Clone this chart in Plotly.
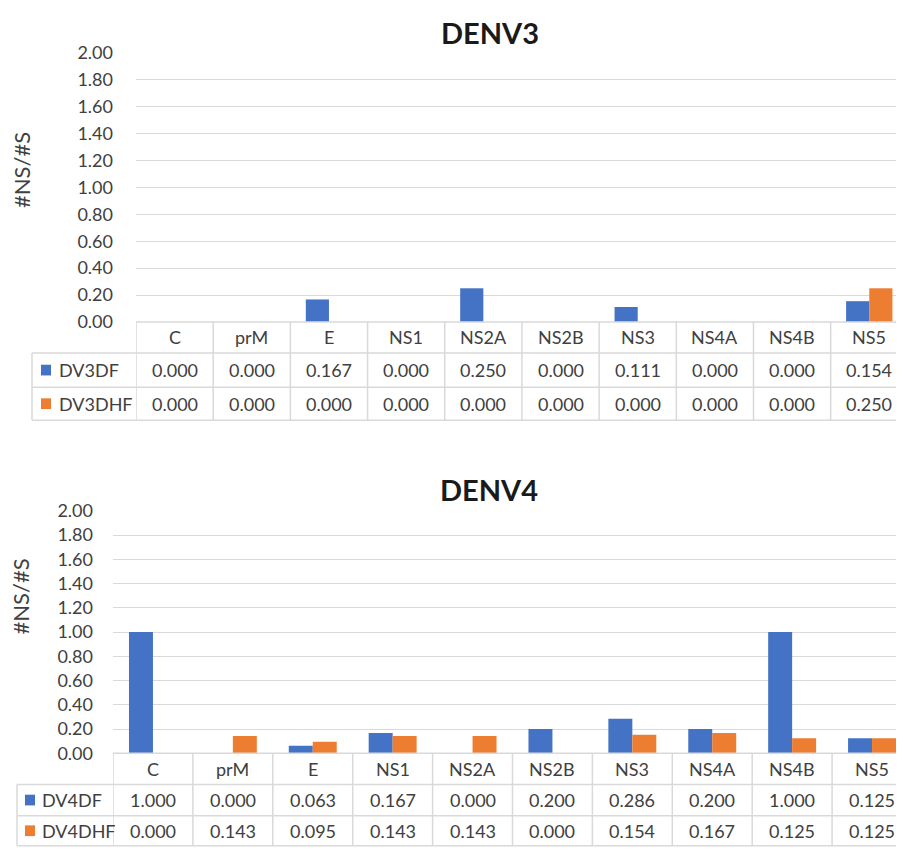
import plotly.graph_objects as go

categories = ["C", "prM", "E", "NS1", "NS2A", "NS2B", "NS3", "NS4A", "NS4B", "NS5"]

dv3_names = ["DV3DF", "DV3DHF"]
dv3df = [0.000, 0.000, 0.167, 0.000, 0.250, 0.000, 0.111, 0.000, 0.000, 0.154]
dv3dhf = [0.000, 0.000, 0.000, 0.000, 0.000, 0.000, 0.000, 0.000, 0.000, 0.250]

dv4_names = ["DV4DF", "DV4DHF"]
dv4df = [1.000, 0.000, 0.063, 0.167, 0.000, 0.200, 0.286, 0.200, 1.000, 0.125]
dv4dhf = [0.000, 0.143, 0.095, 0.143, 0.143, 0.000, 0.154, 0.167, 0.125, 0.125]

y_ticks = [0.0, 0.2, 0.4, 0.6, 0.8, 1.0, 1.2, 1.4, 1.6, 1.8, 2.0]
titles = ["DENV3", "DENV4"]
y_title = "#NS/#S"

# page body has an 8px margin: figure sized so the page fits the window exactly
W, H = 896, 841
OFF = 8
BLUE = "#4472C4"
ORANGE = "#ED7D31"
GRID = "#D9D9D9"
TXT = "#404040"
FONT = "Lato"
FS = 18

def px(x):
    return (x - OFF) / W

def py(y):
    return 1 - (y - OFF) / H

fig = go.Figure()
shapes = []
annotations = []

panels = [
    dict(names=dv3_names, vals=[dv3df, dv3dhf], title=titles[0], xa="x", ya="y",
         plot_l=136, plot_top=42, plot_bot=318, hdr_bot=350, r1_bot=385, r2_bot=419,
         leg_l=32, sq_l=41, txt_l=57, title_x=490, title_y=21, ytitle_x=22, ytitle_y=162),
    dict(names=dv4_names, vals=[dv4df, dv4dhf], title=titles[1], xa="x2", ya="y2",
         plot_l=113, plot_top=512, plot_bot=761, hdr_bot=793, r1_bot=825, r2_bot=856,
         leg_l=17, sq_l=25, txt_l=40, title_x=489, title_y=490, ytitle_x=21, ytitle_y=600),
]

for p in panels:
    colors = [BLUE, ORANGE]
    for name, vals, col in zip(p["names"], p["vals"], colors):
        fig.add_trace(go.Bar(x=categories, y=vals, name=name, marker_color=col,
                             marker_line_width=0, xaxis=p["xa"], yaxis=p["ya"],
                             showlegend=False))
    xref = p["xa"]
    annotations.append(dict(text="<b>" + p["title"] + "</b>", x=px(p["title_x"]), y=py(p["title_y"]),
                            xref="paper", yref="paper", showarrow=False,
                            font=dict(family=FONT, size=29, color="#1a1a1a"),
                            xanchor="center", yanchor="middle"))
    annotations.append(dict(text=y_title, x=px(p["ytitle_x"]), y=py(p["ytitle_y"]),
                            xref="paper", yref="paper", showarrow=False, textangle=-90,
                            font=dict(family=FONT, size=22, color=TXT),
                            xanchor="center", yanchor="middle"))
    for yy in [p["plot_bot"], p["hdr_bot"], p["r1_bot"], p["r2_bot"]]:
        x0 = p["plot_l"] if yy == p["plot_bot"] else p["leg_l"]
        shapes.append(dict(type="line", xref="paper", yref="paper", x0=px(x0), x1=1,
                           y0=py(yy), y1=py(yy), line=dict(color=GRID, width=1.5)))
    for i in range(len(categories) + 1):
        shapes.append(dict(type="line", xref=xref, yref="paper", x0=i - 0.5, x1=i - 0.5,
                           y0=py(p["plot_bot"]), y1=py(p["r2_bot"]),
                           line=dict(color=GRID, width=1.5)))
    shapes.append(dict(type="line", xref="paper", yref="paper", x0=px(p["leg_l"]), x1=px(p["leg_l"]),
                       y0=py(p["hdr_bot"]), y1=py(p["r2_bot"]), line=dict(color=GRID, width=1.5)))
    hdr_y = py((p["plot_bot"] + p["hdr_bot"]) / 2)
    for c in categories:
        annotations.append(dict(text=c, x=c, y=hdr_y, xref=xref, yref="paper", showarrow=False,
                                font=dict(family=FONT, size=FS, color=TXT),
                                xanchor="center", yanchor="middle"))
    rows = [(p["hdr_bot"], p["r1_bot"]), (p["r1_bot"], p["r2_bot"])]
    for (t, b), name, vals, col in zip(rows, p["names"], p["vals"], colors):
        ry = py((t + b) / 2)
        shapes.append(dict(type="rect", xref="paper", yref="paper",
                           x0=px(p["sq_l"]), x1=px(p["sq_l"] + 10),
                           y0=ry - 5.5 / H, y1=ry + 5.5 / H, fillcolor=col, line=dict(width=0)))
        annotations.append(dict(text=name, x=px(p["txt_l"]), y=ry, xref="paper", yref="paper",
                                showarrow=False, font=dict(family=FONT, size=FS, color=TXT),
                                xanchor="left", yanchor="middle"))
        for c, v in zip(categories, vals):
            annotations.append(dict(text=f"{v:.3f}", x=c, y=ry, xref=xref, yref="paper",
                                    showarrow=False, font=dict(family=FONT, size=FS, color=TXT),
                                    xanchor="center", yanchor="middle"))

def xaxis_cfg(left, xmax):
    return dict(domain=[px(left), 1], range=[-0.5, xmax], showticklabels=False,
                showgrid=False, zeroline=False, showline=False, ticks="",
                categoryorder="array", categoryarray=categories, fixedrange=True)

def yaxis_cfg(top, bot, anchor, standoff):
    return dict(domain=[py(bot), py(top)], range=[0, 2], tickvals=y_ticks,
                tickformat=".2f", showgrid=True, gridcolor=GRID, gridwidth=1.3,
                zeroline=False, showline=False, ticks="", ticklabelstandoff=standoff,
                tickfont=dict(family=FONT, size=FS, color=TXT), anchor=anchor)

fig.update_layout(
    width=W, height=H,
    margin=dict(l=0, r=0, t=0, b=0),
    paper_bgcolor="white", plot_bgcolor="white",
    barmode="group", bargap=0.4, bargroupgap=0,
    xaxis=dict(**xaxis_cfg(136, 9.45), anchor="y"),
    yaxis=yaxis_cfg(42, 318, "x", 22),
    xaxis2=dict(**xaxis_cfg(113, 9.4), anchor="y2"),
    yaxis2=yaxis_cfg(512, 761, "x2", 19),
    shapes=shapes, annotations=annotations,
    font=dict(family=FONT, color=TXT),
)

fig.write_html("out.html")
